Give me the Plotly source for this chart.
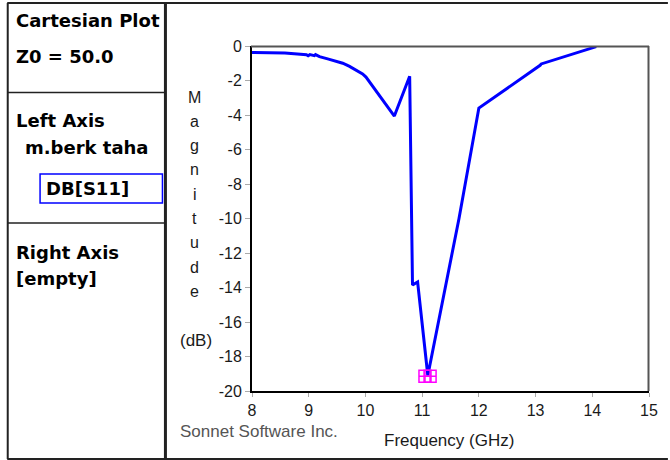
import plotly.graph_objects as go

# S11 magnitude sweep (GHz, dB)
freq_ghz = [8.00, 8.58, 8.96, 8.99, 9.02, 9.10, 9.12, 9.19, 9.35, 9.49, 9.60, 9.72,
            9.84, 9.95, 10.01, 10.51, 10.78, 10.81, 10.83, 10.92, 11.10, 11.65,
            12.00, 13.08, 13.10, 14.07]
s11_db = [-0.38, -0.40, -0.50, -0.56, -0.50, -0.56, -0.50, -0.62, -0.76, -0.91,
          -1.00, -1.18, -1.39, -1.62, -1.80, -4.06, -1.75, -7.90, -13.86, -13.68,
          -19.10, -10.00, -3.60, -1.12, -1.04, -0.04]

# marker symbols placed at the resonance minimum
marker_f = [11.05, 11.14]
marker_db = [-19.15, -19.15]

x_ticks = [8, 9, 10, 11, 12, 13, 14, 15]
y_ticks = [0, -2, -4, -6, -8, -10, -12, -14, -16, -18, -20]

panel_lines = [
    ("Cartesian Plot", 20),
    ("Z0 = 50.0", 57),
    ("Left Axis", 121),
    ("Right Axis", 252),
    ("[empty]", 278),
]
trace_owner = "m.berk taha"
trace_name = "DB[S11]"
y_title_letters = "Magnitude"
y_unit = "(dB)"
x_title = "Frequency (GHz)"
credit = "Sonnet Software Inc."

W, H = 670, 460
L, R, T, B = 252, 651, 46, 391


def px(x):
    return (x - L) / (R - L)


def py(y):
    return (B - y) / (B - T)


fig = go.Figure()
fig.add_trace(go.Scatter(
    x=freq_ghz, y=s11_db, mode="lines",
    line=dict(color="#0000FF", width=3),
    hoverinfo="skip", showlegend=False,
))
fig.add_trace(go.Scatter(
    x=marker_f, y=marker_db, mode="markers",
    marker=dict(symbol="square-cross-open", size=12, color="#FF00FF",
                line=dict(color="#FF00FF", width=1.5)),
    hoverinfo="skip", showlegend=False, cliponaxis=False,
))

dark = "#1a1a1a"
tick_font = dict(family="Liberation Sans, Arial, sans-serif", size=16, color=dark)
bold_font = dict(family="DejaVu Sans, sans-serif", size=18, color="black")

shapes = []


def hline(y, x0, x1, color="#222", width=2):
    shapes.append(dict(type="line", xref="paper", yref="paper",
                       x0=px(x0), x1=px(x1), y0=py(y), y1=py(y),
                       line=dict(color=color, width=width)))


def vline(x, y0, y1, color="#222", width=2):
    shapes.append(dict(type="line", xref="paper", yref="paper",
                       x0=px(x), x1=px(x), y0=py(y0), y1=py(y1),
                       line=dict(color=color, width=width)))


# window frame and side panel
hline(3, 6, 670)
hline(459, 6, 670)
vline(6.5, 3, 459)
vline(165, 3, 459, width=3)
hline(92.5, 6, 165, width=1.5)
hline(223, 6, 165, width=1.5)
# trace name box
shapes.append(dict(type="rect", xref="paper", yref="paper",
                   x0=px(39), x1=px(162), y0=py(174), y1=py(203),
                   line=dict(color="#0000FF", width=1.5)))
# plot frame (top/right)
hline(46.5, 251, 651, color="#555", width=2)
vline(650.5, 46, 391, color="#555", width=2)

annotations = []
for text, yc in panel_lines:
    annotations.append(dict(text="<b>" + text + "</b>", xref="paper", yref="paper",
                            x=px(13), y=py(yc), xanchor="left", yanchor="middle",
                            showarrow=False, font=bold_font))
annotations.append(dict(text="<b>" + trace_owner + "</b>", xref="paper", yref="paper",
                        x=px(22), y=py(147.5), xanchor="left", yanchor="middle",
                        showarrow=False, font=bold_font))
annotations.append(dict(text="<b>" + trace_name + "</b>", xref="paper", yref="paper",
                        x=px(43), y=py(188.5), xanchor="left", yanchor="middle",
                        showarrow=False, font=bold_font))

label_font = dict(family="Liberation Sans, Arial, sans-serif", size=16, color=dark)
for i, ch in enumerate(y_title_letters):
    annotations.append(dict(text=ch, xref="paper", yref="paper",
                            x=px(194.5), y=py(97 + i * 24.3),
                            xanchor="center", yanchor="middle",
                            showarrow=False, font=label_font))
annotations.append(dict(text=y_unit, xref="paper", yref="paper",
                        x=px(195.5), y=py(340), xanchor="center", yanchor="middle",
                        showarrow=False,
                        font=dict(family="Liberation Sans, Arial, sans-serif",
                                  size=17, color=dark)))
annotations.append(dict(text=x_title, xref="paper", yref="paper",
                        x=px(450), y=py(440), xanchor="center", yanchor="middle",
                        showarrow=False,
                        font=dict(family="Liberation Sans, Arial, sans-serif",
                                  size=17, color=dark)))
annotations.append(dict(text=credit, xref="paper", yref="paper",
                        x=px(178), y=py(432), xanchor="left", yanchor="middle",
                        showarrow=False,
                        font=dict(family="Liberation Sans, Arial, sans-serif",
                                  size=17, color="#555")))

fig.update_layout(
    width=W, height=H,
    margin=dict(l=L, r=W - R, t=T, b=H - B, pad=0),
    paper_bgcolor="white", plot_bgcolor="white",
    shapes=shapes, annotations=annotations,
    xaxis=dict(range=[8, 15], tickvals=x_ticks, ticktext=[str(v) for v in x_ticks],
               showgrid=False, zeroline=False, showline=True, linecolor="black",
               linewidth=2, ticks="outside", ticklen=4, tickcolor="#aaa",
               tickwidth=1, tickfont=tick_font, fixedrange=True),
    yaxis=dict(range=[-20, 0], tickvals=y_ticks, ticktext=[str(v) for v in y_ticks],
               showgrid=False, zeroline=False, showline=True, linecolor="black",
               linewidth=2, ticks="outside", ticklen=5, tickcolor="#aaa",
               tickwidth=1, tickfont=tick_font, fixedrange=True),
)

fig.write_html("out.html", config={"displayModeBar": False})
